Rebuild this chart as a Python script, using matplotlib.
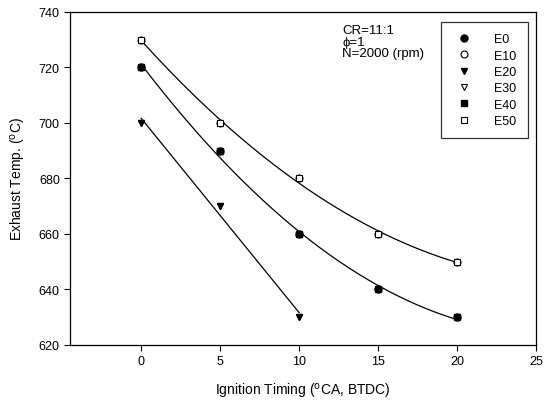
import numpy as np
import matplotlib
matplotlib.use("Agg")
import matplotlib.pyplot as plt

plt.rcParams['font.family'] = ['Liberation Sans', 'DejaVu Sans']

timing = [0, 5, 10, 15, 20]
timing_e20 = [0, 5, 10]
e0 = [720, 690, 660, 640, 630]
e10 = [730, 700, 680, 660, 650]
e20 = [700, 670, 630]
e30 = [700, 670, 630]
e40 = [720, 690, 660, 640, 630]
e50 = [730, 700, 680, 660, 650]

fig = plt.figure(figsize=(5.44, 4.06), dpi=100)
ax = fig.add_axes([0.129, 0.148, 0.856, 0.820])

ms = 5
ax.plot(timing, e0, 'o', color='black', ms=ms, ls='none', label='E0', zorder=2)
ax.plot(timing, e10, 'o', mfc='white', mec='black', ms=ms, mew=0.8, ls='none', label='E10', zorder=2)
ax.plot(timing_e20, e20, 'v', color='black', ms=ms, ls='none', label='E20', zorder=4)
ax.plot(timing_e20, e30, 'v', mfc='white', mec='black', ms=ms, mew=0.8, ls='none', label='E30', zorder=2)
ax.plot(timing, e40, 's', color='black', ms=ms, ls='none', label='E40', zorder=4)
ax.plot(timing, e50, 's', mfc='white', mec='black', ms=ms, mew=0.8, ls='none', label='E50', zorder=4)

# regression fits
xs = np.linspace(0, 20, 200)
c40 = np.polyfit(timing, e40, 2)
ax.plot(xs, np.polyval(c40, xs), color='black', lw=0.9, zorder=1)
c50 = np.polyfit(timing, e50, 2)
ax.plot(xs, np.polyval(c50, xs), color='black', lw=0.9, zorder=1)
xs2 = np.linspace(0, 10, 100)
c20 = np.polyfit(timing_e20, e20, 1)
ax.plot(xs2, np.polyval(c20, xs2), color='black', lw=0.9, zorder=1)

ax.set_xlim(-4.5, 25)
ax.set_ylim(620, 740)
ax.set_xticks([0, 5, 10, 15, 20, 25])
ax.set_yticks(np.arange(620, 741, 20))
ax.tick_params(direction='out', labelsize=9, length=4, top=False, right=False)
ax.set_xlabel('Ignition Timing ($^{\\rm o}$CA, BTDC)', fontsize=10, labelpad=10)
ax.set_ylabel('Exhaust Temp. ($^{\\rm o}$C)', fontsize=10, labelpad=8)
for s in ax.spines.values():
    s.set_linewidth(0.9)

ax.text(0.584, 0.963, 'CR=11:1\n\u03d5=1\nN=2000 (rpm)', transform=ax.transAxes,
        fontsize=9.5, va='top', ha='left', linespacing=0.92)

leg = ax.legend(loc='upper right', bbox_to_anchor=(0.983, 0.970), fontsize=9,
                frameon=True, fancybox=False, edgecolor='black', handletextpad=1.4,
                borderpad=0.9, labelspacing=0.35, handlelength=2.0, borderaxespad=0)
leg.get_frame().set_linewidth(0.9)

fig.savefig('out.png', dpi=100)
